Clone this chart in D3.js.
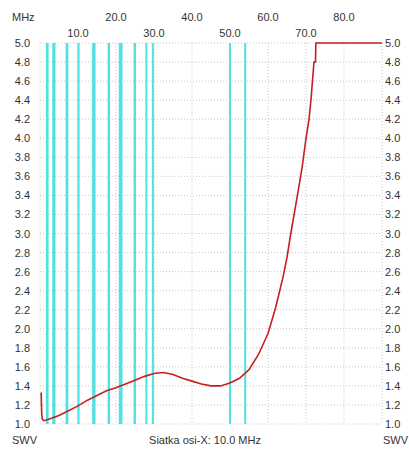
<!DOCTYPE html>
<html>
<head>
<meta charset="utf-8">
<script src="https://cdn.jsdelivr.net/npm/d3@7"></script>
<style>
  body { margin: 0; background: #fff; }
  text { font-family: "Liberation Sans", Arial, sans-serif; font-size: 11px; fill: #333; }
</style>
</head>
<body>
<div id="chart-area"></div>
<script>
// measured sweep: frequency (MHz) and SWR
var freq = [0.3, 0.45, 0.6, 1.0, 1.5, 3, 5, 7.5, 10, 12.5, 15, 17.5, 20, 22.5, 25, 27.5, 30, 32.5, 35, 37.5, 40, 42.5, 45, 47.5, 50, 52.5, 55, 57.5, 60, 62, 64, 65, 66, 67, 68, 69, 70, 70.8, 71.3, 71.7, 72.1, 72.5, 72.6, 90];
var swr  = [1.33, 1.12, 1.05, 1.035, 1.04, 1.06, 1.09, 1.14, 1.19, 1.25, 1.30, 1.35, 1.38, 1.42, 1.46, 1.50, 1.53, 1.54, 1.52, 1.48, 1.45, 1.42, 1.40, 1.40, 1.43, 1.48, 1.57, 1.73, 1.95, 2.22, 2.55, 2.75, 3.0, 3.23, 3.46, 3.7, 4.0, 4.2, 4.4, 4.6, 4.8, 4.8, 5.0, 5.0];

// amateur band markers (MHz)
var bandStart = [1.81, 3.5, 7.0, 10.1, 14.0, 18.068, 21.0, 24.89, 28.0, 29.7, 50.0, 54.0];
var bandEnd   = [2.0, 3.8, 7.2, 10.15, 14.35, 18.168, 21.45, 24.99, 28.0, 29.7, 50.0, 54.0];

var xTicks = [10, 20, 30, 40, 50, 60, 70, 80];
var yTicks = [1.0, 1.2, 1.4, 1.6, 1.8, 2.0, 2.2, 2.4, 2.6, 2.8, 3.0, 3.2, 3.4, 3.6, 3.8, 4.0, 4.2, 4.4, 4.6, 4.8, 5.0];

var W = 409, H = 449;
var plotLeft = 40, plotRight = 382, plotTop = 43, plotBottom = 424;

var svg = d3.select("#chart-area")
    .append("svg")
    .attr("width", W)
    .attr("height", H);

var x = d3.scaleLinear().domain([0, 90]).range([plotLeft, plotRight]);
var y = d3.scaleLinear().domain([1, 5]).range([plotBottom, plotTop]);

// grid
svg.append("g").selectAll("line")
    .data(d3.range(0, 91, 10))
    .enter().append("line")
    .attr("x1", d => x(d)).attr("x2", d => x(d))
    .attr("y1", plotTop).attr("y2", plotBottom)
    .attr("stroke", "#c8c8c8")
    .attr("stroke-dasharray", "1,2");

svg.append("g").selectAll("line")
    .data(yTicks)
    .enter().append("line")
    .attr("x1", plotLeft).attr("x2", plotRight)
    .attr("y1", d => y(d)).attr("y2", d => y(d))
    .attr("stroke", "#c8c8c8")
    .attr("stroke-dasharray", "1,2");

// band markers
svg.append("g").selectAll("rect")
    .data(d3.range(bandStart.length))
    .enter().append("rect")
    .attr("x", i => x(bandStart[i]) - 1)
    .attr("width", i => x(bandEnd[i]) - x(bandStart[i]) + 2)
    .attr("y", plotTop)
    .attr("height", plotBottom - plotTop)
    .attr("fill", "#4ee2e2");

// y labels, both sides
svg.append("g").selectAll("text")
    .data(yTicks)
    .enter().append("text")
    .attr("x", 30)
    .attr("y", d => y(d) + 4)
    .attr("text-anchor", "end")
    .text(d => d.toFixed(1));

svg.append("g").selectAll("text")
    .data(yTicks)
    .enter().append("text")
    .attr("x", 385)
    .attr("y", d => y(d) + 4)
    .text(d => d.toFixed(1));

// x labels, staggered on top
svg.append("g").selectAll("text")
    .data(xTicks)
    .enter().append("text")
    .attr("x", d => x(d))
    .attr("y", d => (d / 10) % 2 === 0 ? 21 : 37)
    .attr("text-anchor", "middle")
    .text(d => d.toFixed(1));

svg.append("text").attr("x", 12).attr("y", 21).text("MHz");
svg.append("text").attr("x", 12).attr("y", 444).text("SWV");
svg.append("text").attr("x", 383).attr("y", 444).text("SWV");
svg.append("text").attr("x", 205).attr("y", 444).attr("text-anchor", "middle").text("Siatka osi-X: 10.0 MHz");

// SWR curve
var line = d3.line()
    .x((d, i) => x(freq[i]))
    .y(d => y(d));

svg.append("path")
    .datum(swr)
    .attr("d", line)
    .attr("fill", "none")
    .attr("stroke", "#c81e1e")
    .attr("stroke-width", 1.6);
</script>
</body>
</html>
